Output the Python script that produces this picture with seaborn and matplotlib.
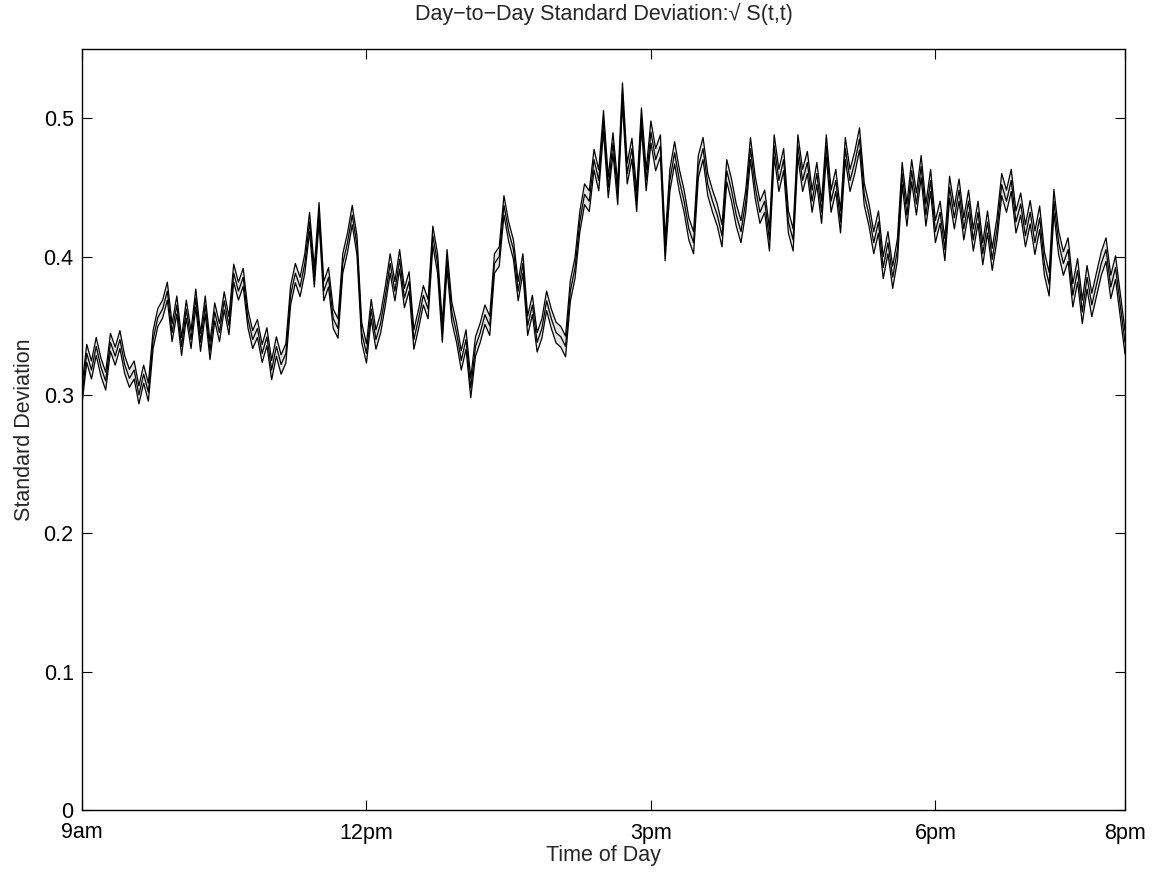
import numpy as np
import pandas as pd
import matplotlib
matplotlib.use("Agg")
import matplotlib.pyplot as plt
import seaborn as sns

# ---- data (3-minute sampling from 9:00 to 20:00) ----
start_hour = 9.0
step_minutes = 3
mean_sd = [
    0.300, 0.330, 0.318, 0.335, 0.320, 0.310, 0.338, 0.328, 0.340, 0.322,
    0.312, 0.318, 0.300, 0.315, 0.302, 0.340, 0.356, 0.362, 0.375, 0.345,
    0.365, 0.335, 0.362, 0.340, 0.370, 0.338, 0.365, 0.332, 0.360, 0.345,
    0.368, 0.350, 0.388, 0.375, 0.385, 0.355, 0.340, 0.348, 0.330, 0.342,
    0.318, 0.335, 0.322, 0.330, 0.372, 0.388, 0.378, 0.395, 0.425, 0.385,
    0.432, 0.375, 0.385, 0.355, 0.348, 0.395, 0.410, 0.430, 0.408, 0.345,
    0.330, 0.362, 0.340, 0.352, 0.372, 0.395, 0.375, 0.398, 0.370, 0.382,
    0.340, 0.355, 0.372, 0.362, 0.415, 0.395, 0.345, 0.398, 0.360, 0.345,
    0.325, 0.340, 0.305, 0.335, 0.345, 0.358, 0.350, 0.395, 0.400, 0.437,
    0.418, 0.405, 0.375, 0.395, 0.350, 0.365, 0.338, 0.348, 0.368, 0.355,
    0.345, 0.342, 0.335, 0.375, 0.392, 0.425, 0.445, 0.440, 0.470, 0.455,
    0.498, 0.450, 0.482, 0.445, 0.518, 0.460, 0.478, 0.440, 0.500, 0.455,
    0.490, 0.470, 0.480, 0.405, 0.455, 0.475, 0.455, 0.440, 0.420, 0.410,
    0.465, 0.478, 0.452, 0.440, 0.430, 0.415, 0.462, 0.448, 0.430, 0.418,
    0.440, 0.478, 0.450, 0.432, 0.440, 0.412, 0.480, 0.455, 0.470, 0.425,
    0.412, 0.480, 0.455, 0.468, 0.440, 0.460, 0.432, 0.480, 0.440, 0.455,
    0.425, 0.478, 0.455, 0.468, 0.485, 0.445, 0.430, 0.410, 0.425, 0.392,
    0.410, 0.385, 0.405, 0.460, 0.430, 0.462, 0.438, 0.465, 0.430, 0.455,
    0.418, 0.432, 0.405, 0.450, 0.428, 0.448, 0.420, 0.440, 0.412, 0.432,
    0.402, 0.425, 0.398, 0.420, 0.452, 0.440, 0.455, 0.425, 0.438, 0.415,
    0.432, 0.410, 0.428, 0.395, 0.380, 0.440, 0.410, 0.395, 0.405, 0.372,
    0.390, 0.360, 0.385, 0.365, 0.380, 0.395, 0.405, 0.378, 0.392, 0.365,
    0.338,
]
# half-width of the confidence band, one value per hour (9am ... 7pm)
band_halfwidth_by_hour = [0.0065, 0.0065, 0.0070, 0.0070, 0.0070, 0.0075,
                          0.0080, 0.0080, 0.0080, 0.0080, 0.0085]

xtick_hours = [9, 12, 15, 18, 20]
xtick_labels = ["9am", "12pm", "3pm", "6pm", "8pm"]
ytick_values = [0, 0.1, 0.2, 0.3, 0.4, 0.5]
ytick_labels = ["0", "0.1", "0.2", "0.3", "0.4", "0.5"]

# ---- assemble ----
n = len(mean_sd)
hours = start_hour + np.arange(n) * step_minutes / 60.0
hour_idx = np.minimum((hours - start_hour).astype(int), len(band_halfwidth_by_hour) - 1)
hw = np.array(band_halfwidth_by_hour)[hour_idx]
mean_arr = np.array(mean_sd)
df = pd.DataFrame({"hour": hours, "mean": mean_arr,
                   "upper": mean_arr + hw, "lower": mean_arr - hw})

sns.set_style("white")
plt.rcParams["font.family"] = ["Liberation Sans", "DejaVu Sans"]

fig = plt.figure(figsize=(11.66, 8.75), dpi=100)
ax = fig.add_axes([82 / 1166, (875 - 810) / 875, (1125 - 82) / 1166, (810 - 49) / 875])

ax.fill_between(df["hour"], df["lower"], df["upper"], color="#e4e4e4", lw=0, zorder=1)
for col in ["upper", "lower", "mean"]:
    sns.lineplot(data=df, x="hour", y=col, color="black", lw=0.9, ax=ax, zorder=2)

ax.set_xlim(9, 20)
ax.set_ylim(0, 0.55)
ax.set_xticks(xtick_hours)
ax.set_xticklabels(xtick_labels)
ax.set_yticks(ytick_values)
ax.set_yticklabels(ytick_labels)

ax.tick_params(direction="in", length=7, width=0.8, colors="black", labelsize=15.5,
               top=True, right=True, bottom=True, left=True)
ax.tick_params(axis="x", pad=9)
ax.tick_params(axis="y", pad=6)
for s in ax.spines.values():
    s.set_color("black")
    s.set_linewidth(1.0)

ax.set_xlabel("Time of Day", fontsize=15.5, labelpad=1)
ax.set_ylabel("Standard Deviation", fontsize=15.5, labelpad=6)
ax.set_title("Day\u2212to\u2212Day Standard Deviation:\u221a S(t,t)", fontsize=15.5, pad=21)

fig.savefig("out.png", dpi=100, facecolor="white")
